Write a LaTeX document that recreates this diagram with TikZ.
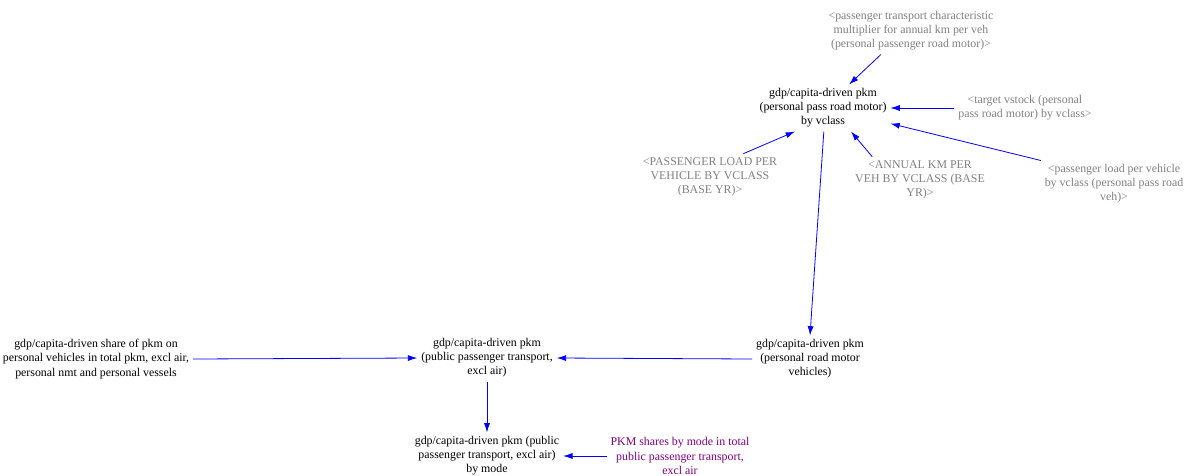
\documentclass[tikz,border=0pt]{standalone}
\usepackage{fontspec}
\setmainfont{Liberation Serif}
\usetikzlibrary{arrows.meta}
\definecolor{grayt}{RGB}{128,128,128}
\definecolor{purplet}{RGB}{128,0,128}
\definecolor{arrowblue}{RGB}{0,0,255}
\begin{document}
\begin{tikzpicture}[x=0.75pt,y=-0.75pt,
  var/.style={align=center,font=\fontsize{8.9}{10.6}\selectfont,inner sep=3pt,outer sep=0pt},
  shadow/.style={var,text=grayt},
  given/.style={var,text=purplet},
  link/.style={draw=arrowblue,line width=0.6pt,-{Latex[length=7pt,width=4.5pt]}}]
\useasboundingbox (0,0) rectangle (1187,475);
\node[shadow] (ptc) at (911,31) {<passenger transport characteristic\\multiplier for annual km per veh\\(personal passenger road motor)>};
\node[var] (m1) at (823,108) {gdp/capita-driven pkm\\(personal pass road motor)\\by vclass};
\node[shadow] (tvs) at (1025,108) {<target vstock (personal\\pass road motor) by vclass>};
\node[shadow] (plb) at (710,177) {<PASSENGER LOAD PER\\VEHICLE BY VCLASS\\(BASE YR)>};
\node[shadow] (akm) at (920,180) {<ANNUAL KM PER\\VEH BY VCLASS (BASE\\YR)>};
\node[shadow] (plv) at (1114,184) {<passenger load per vehicle\\by vclass (personal pass road\\veh)>};
\node[var] (m2) at (810,359) {gdp/capita-driven pkm\\(personal road motor\\vehicles)};
\node[var] (m3) at (487,358) {gdp/capita-driven pkm\\(public passenger transport,\\excl air)};
\node[var] (sh) at (96,359) {gdp/capita-driven share of pkm on\\personal vehicles in total pkm, excl air,\\personal nmt and personal vessels};
\node[var] (m4) at (487,456) {gdp/capita-driven pkm (public\\passenger transport, excl air)\\by mode};
\node[given] (pkm) at (680,456) {PKM shares by mode in total\\public passenger transport,\\excl air};

\draw[link] (ptc.218) -- (m1.42);
\draw[link] (tvs.west) -- (m1.east);
\draw[link] (plb.35) -- (m1.220);
\draw[link] (akm.154) -- (m1.-40);
\draw[link] (plv.north west) -- (m1.-13);
\draw[link] (m1.-88) -- (m2.north);
\draw[link] (m2.west) -- (m3.east);
\draw[link] (sh.east) -- (m3.west);
\draw[link] (m3.south) -- (m4.north);
\draw[link] (pkm.west) -- (m4.east);
\end{tikzpicture}
\end{document}
